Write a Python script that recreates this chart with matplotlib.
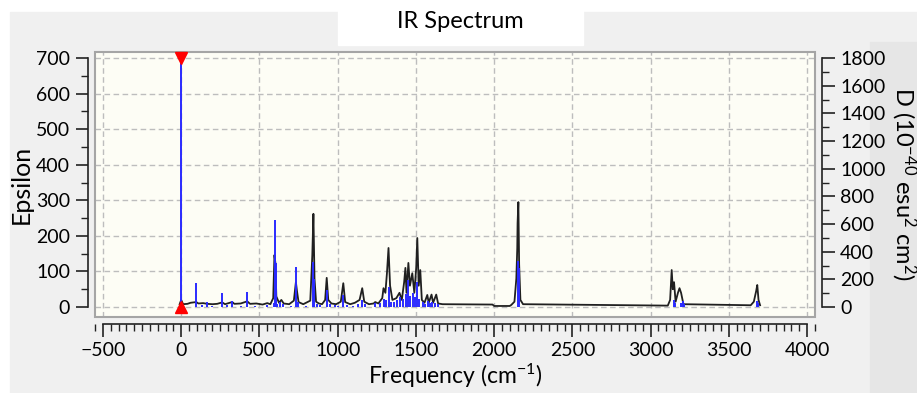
import matplotlib
matplotlib.use("Agg")
import matplotlib.pyplot as plt
from matplotlib.patches import Rectangle
from matplotlib.ticker import MultipleLocator

plt.rcParams['font.family'] = ['Lato', 'DejaVu Sans']
plt.rcParams['mathtext.fontset'] = 'custom'
plt.rcParams['mathtext.rm'] = 'Lato'
plt.rcParams['mathtext.it'] = 'Lato:italic'

# broadened spectrum (Epsilon)
curve_freq = [-10, 0, 12, 40, 60, 96, 110, 140, 166, 200, 230, 262, 280, 326, 340,
              380, 422, 440, 480, 520, 550, 570, 588, 596, 602, 608, 625, 640, 655,
              690, 720, 733, 740, 750, 780, 825, 838, 845, 852, 862, 880, 900, 920,
              930, 940, 960, 990, 1020, 1036, 1048, 1080, 1110, 1140, 1157, 1170,
              1200, 1230, 1240, 1260, 1285, 1293, 1305, 1315, 1325, 1335, 1350, 1375,
              1395, 1410, 1425, 1433, 1440, 1452, 1462, 1477, 1490, 1502, 1509, 1518,
              1528, 1538, 1555, 1573, 1582, 1600, 1610, 1630, 1642, 1670, 1990, 2000,
              2100, 2110, 2130, 2142, 2148, 2150, 2155, 2160, 2168, 2185, 3110, 3125,
              3135, 3142, 3150, 3160, 3175, 3185, 3195, 3210, 3640, 3660, 3675, 3682,
              3690, 3700]
curve_eps = [8, 20, 8, 9, 12, 14, 10, 11, 9, 8, 9, 13, 8, 14, 9,
             10, 16, 9, 10, 7, 11, 8, 25, 146, 124, 30, 12, 20, 10,
             8, 18, 70, 45, 14, 8, 18, 146, 262, 80, 15, 10, 8, 20,
             82, 20, 10, 8, 15, 67, 14, 8, 12, 20, 53, 15,
             8, 10, 14, 10, 25, 53, 40, 95, 166, 60, 20, 25,
             40, 20, 70, 110, 40, 124, 60, 95, 40, 110, 194, 60,
             104, 20, 12, 34, 12, 35, 12, 35, 10, 8, 7, 3,
             3, 6, 15, 80, 166, 236, 295, 120, 20, 8, 4, 20,
             104, 50, 70, 15, 40, 53, 40, 8, 5, 15, 45, 62,
             20, 5]

# stick spectrum, D (10^-40 esu^2 cm^2)
stick_freq = [0, 96, 130, 166, 200, 262, 290, 326, 380, 422, 470, 550, 590, 601, 604,
              615, 630, 650, 700, 735, 745, 800, 845, 848, 870, 890, 932, 950, 980,
              1000, 1036, 1060, 1100, 1130, 1157, 1175, 1240, 1270, 1293, 1310, 1325,
              1340, 1360, 1380, 1400, 1420, 1440, 1452, 1465, 1480, 1495, 1509, 1520,
              1545, 1560, 1575, 1590, 1605, 1625, 1640, 2155, 2158, 3150, 3158, 3195,
              3205, 3215, 3680, 3685]
stick_d = [1800, 173, 15, 36, 10, 100, 15, 44, 10, 108, 8, 12, 30, 630, 320,
           25, 40, 20, 10, 289, 40, 10, 325, 200, 25, 15, 123, 20, 15,
           10, 87, 15, 10, 25, 52, 20, 30, 30, 60, 50, 145,
           40, 40, 50, 70, 60, 95, 195, 80, 100, 70, 180, 60,
           40, 20, 45, 30, 40, 30, 20, 332, 280, 50, 30, 30,
           45, 25, 45, 30]

x_ticks = [-500, 0, 500, 1000, 1500, 2000, 2500, 3000, 3500, 4000]
eps_ticks = [0, 100, 200, 300, 400, 500, 600, 700]
d_ticks = [0, 200, 400, 600, 800, 1000, 1200, 1400, 1600, 1800]

W, H = 917, 393
fig = plt.figure(figsize=(W / 100, H / 100), dpi=100, facecolor='white')

# window backgrounds
fig.patches.append(Rectangle((10 / W, 0), 1, (H - 12) / H, transform=fig.transFigure,
                             color='#f0f0f0', zorder=-3))
fig.patches.append(Rectangle((870 / W, 0), 1, (H - 42) / H, transform=fig.transFigure,
                             color='#e6e6e6', zorder=-2))
fig.patches.append(Rectangle((338 / W, 1 - 45 / H), 245 / W, 45 / H, transform=fig.transFigure,
                             color='white', zorder=-1))
fig.text(460 / W, 1 - 22 / H, 'IR Spectrum', ha='center', va='center', fontsize=17)

ax = fig.add_axes([95 / W, 1 - 317 / H, 720 / W, 265 / H])
ax.set_facecolor('#fdfdf5')
ax.set_xlim(-551, 4051)
ax.set_ylim(-28, 717)
scale = 1800 / 700

ax.plot(curve_freq, curve_eps, color='#202020', lw=1.3, zorder=3)

ax2 = ax.twinx()
ax2.set_ylim(-28 * scale, 717 * scale)
ax2.vlines(stick_freq, 0, stick_d, color='#2a2aff', lw=1.4, zorder=4)
ax2.plot([0], [1800], marker='v', color='red', ms=9, clip_on=False, zorder=5)
ax2.plot([0], [0], marker='^', color='red', ms=9, clip_on=False, zorder=5)

# grid
ax.set_axisbelow(True)
ax.set_xticks(x_ticks)
ax.set_yticks(eps_ticks)
ax.grid(True, color='#bdbdbd', lw=1.0, linestyle=(0, (4, 2.5)))

# axis spines
for s in ['top', 'right']:
    ax.spines[s].set_visible(False)
for s in ['top', 'left', 'bottom']:
    ax2.spines[s].set_visible(False)
ax.spines['left'].set_position(('outward', 5))
ax.spines['left'].set_bounds(0, 700)
ax.spines['bottom'].set_position(('outward', 5))
ax.spines['bottom'].set_bounds(-500, 4000)
ax2.spines['right'].set_position(('outward', 5))
ax2.spines['right'].set_bounds(0, 1800)
for sp in [ax.spines['left'], ax.spines['bottom'], ax2.spines['right']]:
    sp.set_linewidth(1.2)
    sp.set_color('#222222')

ax.add_patch(Rectangle((0, 0), 1, 1, transform=ax.transAxes, fill=False,
                       ec='#a5a5a5', lw=1.5, clip_on=False, zorder=6))

ax.xaxis.set_minor_locator(MultipleLocator(50))
ax.yaxis.set_minor_locator(MultipleLocator(50))
ax2.set_yticks(d_ticks)
ax2.yaxis.set_minor_locator(MultipleLocator(100))
ax.tick_params(which='major', length=9, width=1.2, labelsize=14, color='#222222', pad=4)
ax.tick_params(which='minor', length=5, width=1.0, color='#222222')
ax2.tick_params(which='major', length=9, width=1.2, labelsize=14, color='#222222', pad=4)
ax2.tick_params(which='minor', length=5, width=1.0, color='#222222')

ax.set_xlabel('Frequency (cm$^{-1}$)', fontsize=16.5, labelpad=2)
ax.set_ylabel('Epsilon', fontsize=18, labelpad=2)
ax2.set_ylabel('D (10$^{-40}$ esu$^{2}$ cm$^{2}$)', fontsize=17, rotation=-90, labelpad=24)

fig.savefig('out.png', dpi=100, facecolor=fig.get_facecolor())
